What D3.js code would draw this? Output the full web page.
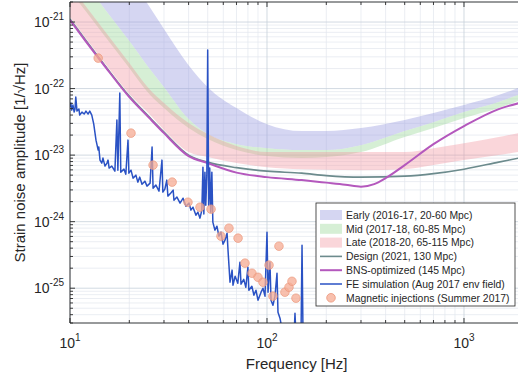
<!DOCTYPE html>
<html>
<head>
<meta charset="utf-8">
<script src="https://cdn.jsdelivr.net/npm/d3@7"></script>
<style>
  body { margin: 0; background: #fff; }
  svg { display: block; font-family: "Liberation Sans", Arial, Helvetica, sans-serif; }
</style>
</head>
<body>
<svg id="chart" width="518" height="379"></svg>
<script>
// ---- data ----
const bandFreq = [10, 12, 15, 20, 25, 30, 40, 50, 70, 100, 150, 200, 300, 500, 700, 1000, 1500, 2000];

const earlyUpper = [1.04e-19, 4.5e-20, 1.71e-20, 4.9e-21, 1.8e-21, 7.85e-22, 2.25e-22, 1.05e-22, 5.09e-23, 2.92e-23, 2.3e-23, 2.3e-23, 2.55e-23, 3.36e-23, 4.28e-23, 5.65e-23, 7.98e-23, 1.09e-22];
const earlyLower = [7.45e-21, 3.72e-21, 1.57e-21, 5.18e-22, 2.1e-22, 1.05e-22, 3.48e-23, 2.07e-23, 1.46e-23, 1.27e-23, 1.19e-23, 1.19e-23, 1.41e-23, 2.3e-23, 3.13e-23, 4.43e-23, 6.27e-23, 8.55e-23];
const midUpper = earlyLower;
const midLower = [2.92e-21, 1.46e-21, 6.15e-22, 2.03e-22, 8.55e-23, 5.09e-23, 2.55e-23, 1.74e-23, 1.19e-23, 9.66e-24, 9.02e-24, 9.33e-24, 1.11e-23, 1.87e-23, 2.55e-23, 3.6e-23, 5.09e-23, 6.95e-23];
const lateUpper = [3.47e-21, 1.74e-21, 7.32e-22, 2.42e-22, 1.02e-22, 6.05e-23, 3.03e-23, 2.07e-23, 1.37e-23, 1.11e-23, 1.11e-23, 1.11e-23, 1.11e-23, 1.11e-23, 1.27e-23, 1.51e-23, 1.87e-23, 2.22e-23];
const lateLower = [1.19e-21, 5.74e-22, 2.42e-22, 8.26e-23, 4.28e-23, 2.38e-23, 1.11e-23, 9.33e-24, 7.59e-24, 6.6e-24, 6.15e-24, 6.05e-24, 5.94e-24, 6.15e-24, 7.08e-24, 8.41e-24, 1.0e-23, 1.15e-23];
const design = [1.11e-21, 5.36e-22, 2.25e-22, 7.71e-23, 3.86e-23, 2.22e-23, 1.0e-23, 7.85e-24, 6.49e-24, 5.74e-24, 5.36e-24, 4.92e-24, 4.67e-24, 4.83e-24, 5.27e-24, 6.15e-24, 7.85e-24, 9.33e-24];

const bnsFreq = [10, 12, 15, 20, 25, 30, 40, 50, 70, 100, 150, 200, 250, 300, 350, 400, 500, 700, 1000, 1500, 2000];
const bnsOptimized = [1.07e-21, 5.18e-22, 2.18e-22, 7.45e-23, 3.73e-23, 2.14e-23, 9.66e-24, 7.59e-24, 5.46e-24, 4.67e-24, 4.21e-24, 3.86e-24, 3.6e-24, 3.36e-24, 3.66e-24, 4.51e-24, 7.08e-24, 1.46e-23, 2.73e-23, 4.92e-23, 6.27e-23];

const feFreq = [10, 10.1, 10.2, 10.35, 10.5, 10.6, 10.7, 10.85, 11.1, 11.2,
  11.5, 11.8, 12.05, 12.35, 12.6, 12.9, 13.2, 13.55, 13.9, 14.0,
  14.2, 14.5, 14.7, 15.05, 15.4, 15.6, 15.8, 16.3, 16.9, 17.3,
  17.5, 17.9, 18.1, 18.8, 19.2, 19.7, 19.9, 20.4, 20.9, 21.6,
  22.1, 22.6, 23.2, 24.0, 24.6, 25.5, 26.1, 26.4, 27.3, 28.3,
  29.3, 29.6, 30.3, 31.0, 31.4, 32.5, 33.4, 33.7, 34.9, 36.2,
  37.5, 38.8, 40.2, 41.1, 42.1, 43.6, 44.6, 45.7, 46.7, 47.3,
  47.8, 48.4, 48.9, 49.5, 50.0, 50.6, 51.2, 51.8, 52.5, 53.1,
  54.4, 55.7, 57.0, 58.4, 59.8, 61.2, 62.7, 63.4, 64.9, 66.5,
  67.2, 68.9, 71.1, 72.9, 73.8, 76.2, 78.1, 80.0, 80.9, 83.8,
  85.8, 87.9, 90.0, 93.3, 95.4, 97.7, 100, 101.2, 103.5, 104.8,
  107.2, 109.8, 112.4, 113.7, 116.4, 120.0, 137.2, 138.7, 140.3, 148.8,
  150.6, 152.4, 175];
const feAmp = [5.27e-23, 6.05e-23, 4.75e-23, 5.65e-23, 4.43e-23, 4.92e-23, 7.45e-23, 4.59e-23, 4.92e-23, 4.0e-23,
  4.43e-23, 4.14e-23, 4.59e-23, 4.14e-23, 4.59e-23, 4.0e-23, 2.92e-23, 1.68e-23, 1.19e-23, 1.32e-23,
  8.41e-24, 7.59e-24, 9.02e-24, 6.84e-24, 7.59e-24, 8.41e-24, 6.38e-24, 6.84e-24, 5.74e-24, 3.36e-23,
  5.94e-24, 8.55e-23, 5.55e-24, 6.15e-24, 5.18e-24, 1.68e-23, 5.36e-24, 5.94e-24, 4.51e-24, 5.0e-24,
  3.93e-24, 4.67e-24, 3.66e-24, 4.06e-24, 3.42e-24, 3.79e-24, 1.32e-23, 3.19e-24, 3.54e-24, 2.88e-24,
  8.41e-24, 2.78e-24, 3.08e-24, 4.21e-24, 2.42e-24, 2.69e-24, 2.98e-24, 2.1e-24, 2.34e-24, 1.9e-24,
  2.25e-24, 1.71e-24, 1.9e-24, 1.49e-24, 1.65e-24, 1.25e-24, 1.39e-24, 1.13e-24, 1.49e-24, 6.6e-24,
  1.3e-24, 5.55e-24, 1.77e-24, 5.0e-24, 3.79e-22, 1.77e-24, 6.38e-24, 1.39e-24, 5.55e-24, 9.83e-25,
  7.45e-25, 8.55e-25, 6.05e-25, 6.95e-25, 4.59e-25, 5.27e-25, 6.72e-25, 3.73e-25, 1.23e-25, 1.87e-25,
  1.11e-25, 1.51e-25, 1.19e-25, 2.46e-25, 1.15e-25, 1.36e-25, 1.035e-25, 2.07e-25, 9.33e-26, 1.07e-25,
  7.85e-26, 9.33e-26, 6.6e-26, 8.71e-26, 1.0e-25, 7.59e-26, 6.95e-25, 8.71e-26, 2.46e-25, 6.6e-26,
  5.55e-26, 7.59e-26, 1.68e-25, 4.36e-26, 3.54e-26, 2.18e-26, 1.9e-26, 4.21e-26, 1.9e-26, 1.9e-26,
  4.43e-25, 1.77e-26, 1.65e-26];

const injFreq = [13.9, 20.4, 26.4, 33.0, 39.7, 45.7, 52.0, 58.4, 64.1, 71.3, 77.3, 83.9, 90.0, 95.4, 102.4, 107.2, 115.0, 123.3, 129.3, 133.9, 140.3];
const injAmp = [2.87e-22, 2.14e-23, 7.08e-24, 3.93e-24, 1.96e-24, 1.65e-24, 1.54e-24, 6.05e-25, 7.98e-25, 5.65e-25, 2.38e-25, 1.68e-25, 1.46e-25, 1.23e-25, 2.22e-25, 7.59e-26, 4.28e-25, 8.71e-26, 1.035e-25, 1.27e-25, 7.08e-26];

const legendLabels = [
  'Early (2016-17, 20-60 Mpc)',
  'Mid (2017-18, 60-85 Mpc)',
  'Late (2018-20, 65-115 Mpc)',
  'Design (2021, 130 Mpc)',
  'BNS-optimized (145 Mpc)',
  'FE simulation (Aug 2017 env field)',
  'Magnetic injections (Summer 2017)'
];

// ---- layout ----
const svg = d3.select('#chart');
const padL = 70, padT = 2, padB = 323, padR = 523.3;
const x = d3.scaleLog().domain([10, 2000]).range([padL, padR]);
const y = d3.scaleLog().domain([3e-26, 2e-21]).range([padB, padT]);
const ink = '#262626';
const injFill = '#f5ab93', injStroke = '#eb9478';

svg.append('rect').attr('width', 518).attr('height', 379).attr('fill', '#fff');

svg.append('defs').append('clipPath').attr('id', 'plot')
  .append('rect').attr('x', padL).attr('y', padT).attr('width', padR - padL).attr('height', padB - padT);

// tick positions
const xMajor = [10, 100, 1000];
const xMinor = [];
[10, 100, 1000].forEach(d => { for (let k = 2; k <= 9; k++) if (d * k <= 2000) xMinor.push(d * k); });
const yMajor = [1e-25, 1e-24, 1e-23, 1e-22, 1e-21];
const yMinor = [];
[1e-26, 1e-25, 1e-24, 1e-23, 1e-22, 1e-21].forEach(d => { for (let k = 2; k <= 9; k++) { const v = d * k; if (v >= 3e-26 && v <= 2e-21) yMinor.push(v); } });

// grid
const grid = svg.append('g');
grid.selectAll('.gxm').data(xMinor).enter().append('line')
  .attr('x1', d => x(d)).attr('x2', d => x(d)).attr('y1', padT).attr('y2', padB)
  .attr('stroke', '#e2e7ee').attr('stroke-width', 0.7);
grid.selectAll('.gym').data(yMinor).enter().append('line')
  .attr('y1', d => y(d)).attr('y2', d => y(d)).attr('x1', padL).attr('x2', padR)
  .attr('stroke', '#e2e7ee').attr('stroke-width', 0.7);
grid.selectAll('.gx').data(xMajor).enter().append('line')
  .attr('x1', d => x(d)).attr('x2', d => x(d)).attr('y1', padT).attr('y2', padB)
  .attr('stroke', '#c6d0db').attr('stroke-width', 0.8);
grid.selectAll('.gy').data(yMajor).enter().append('line')
  .attr('y1', d => y(d)).attr('y2', d => y(d)).attr('x1', padL).attr('x2', padR)
  .attr('stroke', '#c6d0db').attr('stroke-width', 0.8);

// curves
const plot = svg.append('g').attr('clip-path', 'url(#plot)');
const area = d3.area()
  .x(d => x(d[0])).y0(d => y(d[1])).y1(d => y(d[2]))
  .curve(d3.curveMonotoneX);
const line = d3.line().x(d => x(d[0])).y(d => y(d[1])).curve(d3.curveMonotoneX);

const bands = [
  { lo: earlyLower, hi: earlyUpper, color: '#9a9ee0', op: 0.42 },
  { lo: midLower, hi: midUpper, color: '#9ed99a', op: 0.42 },
  { lo: lateLower, hi: lateUpper, color: '#f2929f', op: 0.38 }
];
bands.forEach(b => {
  plot.append('path')
    .datum(d3.zip(bandFreq, b.lo, b.hi))
    .attr('d', area)
    .attr('fill', b.color).attr('fill-opacity', b.op);
});

plot.append('path').datum(d3.zip(bandFreq, design))
  .attr('d', line).attr('fill', 'none')
  .attr('stroke', '#6c8b8d').attr('stroke-width', 1.6);

plot.append('path').datum(d3.zip(bnsFreq, bnsOptimized))
  .attr('d', line).attr('fill', 'none')
  .attr('stroke', '#b458bd').attr('stroke-width', 2);

plot.append('path').datum(d3.zip(feFreq, feAmp))
  .attr('d', d3.line().x(d => x(d[0])).y(d => y(d[1])))
  .attr('fill', 'none')
  .attr('stroke', '#2a52c4').attr('stroke-width', 1.5).attr('stroke-linejoin', 'round');

plot.selectAll('.inj').data(d3.zip(injFreq, injAmp)).enter().append('circle')
  .attr('cx', d => x(d[0])).attr('cy', d => y(d[1])).attr('r', 4.3)
  .attr('fill', injFill).attr('fill-opacity', 0.75)
  .attr('stroke', injStroke).attr('stroke-opacity', 0.8).attr('stroke-width', 0.8);

// axes frame and ticks
const axes = svg.append('g').attr('stroke', ink).attr('stroke-width', 0.9);
axes.append('line').attr('x1', padL).attr('x2', padR).attr('y1', padB).attr('y2', padB);
axes.append('line').attr('x1', padL).attr('x2', padR).attr('y1', padT).attr('y2', padT);
axes.append('line').attr('x1', padL).attr('x2', padL).attr('y1', padT).attr('y2', padB);

const xTicks = xMajor.map(v => [v, 5]).concat(xMinor.map(v => [v, 3]));
axes.selectAll('.xtb').data(xTicks).enter().append('line')
  .attr('x1', d => x(d[0])).attr('x2', d => x(d[0]))
  .attr('y1', padB).attr('y2', d => padB - d[1]);
axes.selectAll('.xtt').data(xTicks).enter().append('line')
  .attr('x1', d => x(d[0])).attr('x2', d => x(d[0]))
  .attr('y1', padT).attr('y2', d => padT + d[1]);
const yTicks = yMajor.map(v => [v, 5]).concat(yMinor.map(v => [v, 3]));
axes.selectAll('.ytl').data(yTicks).enter().append('line')
  .attr('y1', d => y(d[0])).attr('y2', d => y(d[0]))
  .attr('x1', padL).attr('x2', d => padL + d[1]);

// tick labels
const xl = svg.selectAll('.xl').data(xMajor).enter().append('text')
  .attr('x', d => x(d)).attr('y', 348)
  .attr('text-anchor', 'middle').attr('fill', ink).attr('font-size', 14);
xl.append('tspan').text('10');
xl.append('tspan').attr('dy', -7).attr('font-size', 10).text(d => Math.round(Math.log10(d)));

const yl = svg.selectAll('.yl').data(yMajor).enter().append('text')
  .attr('x', 64).attr('y', d => y(d) + 5)
  .attr('text-anchor', 'end').attr('fill', ink).attr('font-size', 14);
yl.append('tspan').text('10');
yl.append('tspan').attr('dy', -7).attr('font-size', 10).text(d => '-' + Math.round(-Math.log10(d)));

// axis titles
svg.append('text').attr('x', (padL + padR) / 2).attr('y', 369)
  .attr('text-anchor', 'middle').attr('fill', ink).attr('font-size', 15)
  .text('Frequency [Hz]');
svg.append('text')
  .attr('transform', `translate(25,${(padT + padB) / 2}) rotate(-90)`)
  .attr('text-anchor', 'middle').attr('fill', ink).attr('font-size', 15)
  .text('Strain noise amplitude [1/\u221AHz]');

// legend
const lg = svg.append('g');
lg.append('rect').attr('x', 316).attr('y', 203).attr('width', 199).attr('height', 103)
  .attr('fill', '#fff').attr('stroke', ink).attr('stroke-width', 0.8);
const rowY = i => 215 + i * 13.8;
bands.forEach((b, i) => {
  lg.append('rect').attr('x', 320).attr('y', rowY(i) - 5).attr('width', 22).attr('height', 10)
    .attr('fill', b.color).attr('fill-opacity', b.op);
});
[['#6c8b8d', 1.6], ['#b458bd', 2], ['#2a52c4', 1.5]].forEach((s, j) => {
  const i = j + 3;
  lg.append('line').attr('x1', 320).attr('x2', 342).attr('y1', rowY(i)).attr('y2', rowY(i))
    .attr('stroke', s[0]).attr('stroke-width', s[1]);
});
lg.append('circle').attr('cx', 331).attr('cy', rowY(6)).attr('r', 4.3)
  .attr('fill', injFill).attr('fill-opacity', 0.75).attr('stroke', injStroke).attr('stroke-width', 0.8);
lg.selectAll('.lt').data(legendLabels).enter().append('text')
  .attr('x', 346).attr('y', (d, i) => rowY(i) + 3.8)
  .attr('fill', ink).attr('font-size', 10.4)
  .text(d => d);
</script>
</body>
</html>
